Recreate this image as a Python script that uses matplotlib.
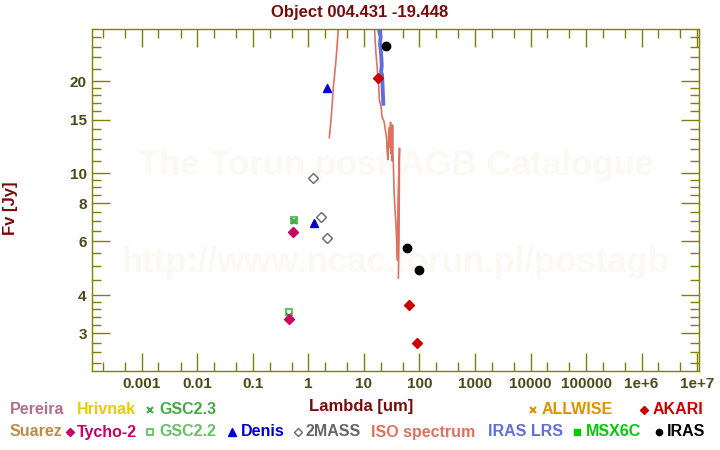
import matplotlib
matplotlib.use("Agg")
import matplotlib.pyplot as plt
from matplotlib.lines import Line2D
from matplotlib.ticker import FixedLocator, NullFormatter
import numpy as np

plt.rcParams['font.family'] = ['Liberation Sans', 'DejaVu Sans']
plt.rcParams['font.weight'] = 'bold'

# ---------------- data ----------------
iras_wl = [25.0, 60.0, 100.0]
iras_fx = [26.2, 5.69, 4.82]

akari_wl = [18.0, 65.0, 90.0]
akari_fx = [20.5, 3.71, 2.79]

denis_wl = [1.25, 2.17]
denis_fx = [6.9, 19.1]

twomass_wl = [1.23, 1.66, 2.19]
twomass_fx = [9.64, 7.19, 6.14]

tycho_wl = [0.44, 0.53]
tycho_fx = [3.35, 6.45]

gsc22_wl = [0.45, 0.56]
gsc22_fx = [3.52, 7.05]

gsc23_wl = [0.45, 0.56]
gsc23_fx = [3.42, 7.0]

iso_wl = [2.39, 2.45, 2.53, 2.64, 2.73, 2.82, 2.93, 3.03, 3.14, 3.25, 3.36, 3.47, 3.6, 4.0,
          12.0, 15.4, 15.9, 16.5, 17.5, 18.5, 19.0, 20.4, 21.2, 22.4, 23.4, 24.3, 25.0, 25.8,
          26.1, 27.2, 28.4, 29.0, 30.2, 31.0, 31.5, 32.2, 32.8, 33.3, 33.9, 34.9, 36.4, 37.9,
          39.5, 40.3, 41.2, 43.8, 42.9, 41.7]
iso_fx = [13.1, 13.8, 14.6, 16.1, 17.5, 19.2, 20.5, 21.8, 23.4, 25.3, 27.5, 29.9, 33.0, 40.0,
          40.0, 31.0, 27.3, 24.7, 21.8, 19.2, 17.4, 16.5, 15.3, 15.0, 14.6, 13.9, 13.5, 12.9,
          11.9, 11.1, 14.1, 12.2, 14.7, 11.6, 12.8, 11.0, 14.4, 12.0, 10.8, 8.83, 7.59, 6.78,
          5.62, 5.2, 8.2, 12.1, 6.05, 4.55]

lrs_wl = [18.2, 18.8, 19.4, 20.0, 19.5, 20.1, 20.6, 21.0, 20.4, 21.2, 21.8, 22.4]
lrs_fx = [31.0, 29.5, 28.5, 28.0, 26.5, 25.5, 24.0, 22.5, 21.5, 21.0, 19.0, 16.9]

x_major = [1e-3, 1e-2, 1e-1, 1, 10, 100, 1000, 1e4, 1e5, 1e6, 1e7]
x_labels = ["0.001", "0.01", "0.1", "1", "10", "100", "1000", "10000", "100000", "1e+6", "1e+7"]
y_major = [3, 4, 6, 8, 10, 15, 20]
y_labels = ["3", "4", "6", "8", "10", "15", "20"]
y_minor = [2.4, 2.6, 2.8, 3.2, 3.4, 3.6, 3.8, 4.5, 5, 5.5, 6.5, 7, 7.5, 8.5, 9, 9.5,
           11, 12, 13, 14, 16, 17, 18, 19, 22, 24, 26, 28]

legend_row1 = [("Pereira", "#B07088", None), ("Hrivnak", "#E8CC00", None),
               ("GSC2.3", "#44AA44", "x"), ("ALLWISE", "#E09000", "x"), ("AKARI", "#CC0000", "D")]
legend_row2 = [("Suarez", "#C08A48", None), ("Tycho-2", "#CC0066", "D"), ("GSC2.2", "#66C066", "s"),
               ("Denis", "#0000CC", "^"), ("2MASS", "#666666", "D"), ("ISO spectrum", "#E07060", None),
               ("IRAS LRS", "#6070D8", None), ("MSX6C", "#00CC00", "s"), ("IRAS", "#000000", "o")]

# ---------------- figure ----------------
W, H = 720, 450
fig = plt.figure(figsize=(7.2, 4.5), dpi=100)
ax = fig.add_axes([92.3 / W, 1 - 371.3 / H, (699 - 92.3) / W, (371.3 - 29.3) / H])
ax.set_xscale('log')
ax.set_yscale('log')
ax.set_xlim(1.29e-4, 1.08e7)
ax.set_ylim(2.256, 29.6)

olive = '#808000'
for s in ax.spines.values():
    s.set_color(olive)
    s.set_linewidth(1.0)

ax.text(0.5, 0.603, "The Torun post-AGB Catalogue", transform=ax.transAxes, ha='center', va='center',
        fontsize=25, color='#FCF9F3', fontweight='bold', zorder=0)
ax.text(0.5, 0.318, "http://www.ncac.torun.pl/postagb", transform=ax.transAxes, ha='center', va='center',
        fontsize=25, color='#FCF9F3', fontweight='bold', zorder=0)

ax.plot(iso_wl, iso_fx, color='#E07060', lw=1.2, zorder=2)
ax.plot(lrs_wl, lrs_fx, color='#6070D8', lw=2.8, zorder=3)

ax.plot(gsc22_wl, gsc22_fx, ls='none', marker='s', ms=5, mfc='none', mec='#66C066', mew=1.5, zorder=4)
ax.plot(gsc23_wl, gsc23_fx, ls='none', marker='x', ms=5, mec='#44AA44', mew=1.5, zorder=4)
ax.plot(tycho_wl, tycho_fx, ls='none', marker='D', ms=5.2, color='#CC0066', zorder=5)
ax.plot(twomass_wl, twomass_fx, ls='none', marker='D', ms=5, mfc='white', mec='#666666', mew=1.0, zorder=5)
ax.plot(denis_wl, denis_fx, ls='none', marker='^', ms=6, color='#0000CC', zorder=5)
ax.plot(akari_wl, akari_fx, ls='none', marker='D', ms=5.2, color='#CC0000', zorder=5)
ax.plot(iras_wl, iras_fx, ls='none', marker='o', ms=6, color='#000000', zorder=5)

tick_col = '#4a4a1a'
ax.xaxis.set_major_locator(FixedLocator(x_major))
ax.set_xticklabels(x_labels)
x_minor = [m * 10.0 ** k for k in range(-4, 8) for m in (2, 5)]
ax.xaxis.set_minor_locator(FixedLocator(x_minor))
ax.xaxis.set_minor_formatter(NullFormatter())
ax.yaxis.set_major_locator(FixedLocator(y_major))
ax.set_yticklabels(y_labels)
ax.yaxis.set_minor_locator(FixedLocator(y_minor))
ax.yaxis.set_minor_formatter(NullFormatter())

ax.tick_params(which='both', direction='in', top=True, right=True, color=olive, width=1.0)
ax.tick_params(which='major', length=13, labelsize=11, labelcolor=tick_col, pad=4)
ax.tick_params(which='minor', length=6.5)
for lab in ax.get_xticklabels() + ax.get_yticklabels():
    lab.set_fontweight('bold')

dark_red = '#7A0A0A'
fig.text(0.5, 1 - 12 / H, "Object 004.431 -19.448", ha='center', va='center', fontsize=12,
         color=dark_red, fontweight='bold')
fig.text(361 / W, 1 - 407 / H, "Lambda [um]", ha='center', va='center', fontsize=12,
         color=dark_red, fontweight='bold')
fig.text(10 / W, 1 - 208 / H, "Fv [Jy]", ha='center', va='center', fontsize=12,
         color=dark_red, fontweight='bold', rotation=90)

# ---------------- custom legend ----------------
row1_pos = [(None, 10), (None, 77), (150, 159), (533, 542), (644, 653)]
row2_pos = [(None, 10), (70, 77), (150, 159), (232, 241), (298, 305), (None, 371),
            (None, 488), (577, 586), (659, 667)]
for entries, positions, ypx in ((legend_row1, row1_pos, 410), (legend_row2, row2_pos, 432)):
    yf = 1 - ypx / H
    for (label, col, mk), (mx, tx) in zip(entries, positions):
        if mk is not None:
            kw = dict(marker=mk, ls='none', transform=fig.transFigure, color=col)
            if label == "2MASS":
                kw.update(mfc='white', mec=col, mew=1.0, ms=4.5)
            elif label == "GSC2.2":
                kw.update(mfc='none', mec=col, mew=1.3, ms=4.5)
            elif mk == 'x':
                kw.update(mew=1.5, ms=5)
            elif mk == '^':
                kw.update(ms=6)
            else:
                kw.update(ms=4.5)
            fig.add_artist(Line2D([mx / W], [yf], **kw))
        fig.text(tx / W, yf, label, ha='left', va='center', fontsize=11.5, color=col, fontweight='bold')

fig.savefig("out.png", dpi=100)
